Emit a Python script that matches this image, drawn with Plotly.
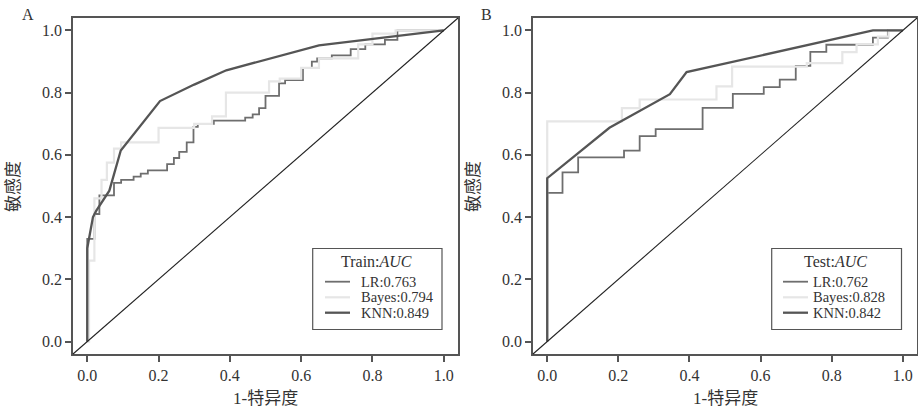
import plotly.graph_objects as go

# ---------------- data ----------------
# Panel A (training set) ROC curves
lr_a_x = [0, 0.02, 0.034, 0.075, 0.095, 0.13, 0.15, 0.17, 0.224, 0.243,
          0.258, 0.279, 0.298, 0.31, 0.355, 0.443, 0.464, 0.482, 0.50, 0.538,
          0.555, 0.605, 0.63, 0.645, 0.686, 0.739, 0.78, 0.835, 0.87, 1.0]
lr_a_y = [0, 0.33, 0.41, 0.47, 0.51, 0.52, 0.53, 0.54, 0.55, 0.57,
          0.59, 0.61, 0.64, 0.69, 0.70, 0.71, 0.72, 0.73, 0.75, 0.79,
          0.83, 0.84, 0.88, 0.90, 0.91, 0.92, 0.94, 0.955, 0.97, 1.0]
bayes_a_x = [0, 0.005, 0.02, 0.04, 0.055, 0.075, 0.095, 0.2, 0.3, 0.35,
             0.389, 0.51, 0.54, 0.6, 0.65, 0.76, 0.8, 0.865, 1.0]
bayes_a_y = [0, 0, 0.26, 0.46, 0.52, 0.575, 0.62, 0.64, 0.687, 0.70,
             0.724, 0.80, 0.836, 0.845, 0.88, 0.91, 0.955, 0.99, 1.0]
knn_a_x = [0, 0, 0.016, 0.025, 0.062, 0.094, 0.204, 0.30, 0.39, 0.51, 0.65, 1.0]
knn_a_y = [0, 0.30, 0.40, 0.42, 0.485, 0.614, 0.773, 0.826, 0.872, 0.909, 0.952, 1.0]

# Panel B (test set) ROC curves
lr_b_x = [0, 0.043, 0.087, 0.216, 0.26, 0.305, 0.437, 0.522, 0.609, 0.654,
          0.699, 0.74, 0.785, 0.916, 0.958, 1.0]
lr_b_y = [0, 0.478, 0.544, 0.592, 0.614, 0.66, 0.683, 0.751, 0.796, 0.818,
          0.842, 0.886, 0.931, 0.954, 0.977, 1.0]
bayes_b_x = [0, 0.21, 0.26, 0.476, 0.52, 0.73, 0.83, 0.87, 0.93, 0.96, 1.0]
bayes_b_y = [0, 0.708, 0.75, 0.778, 0.82, 0.884, 0.895, 0.93, 0.955, 0.98, 1.0]
knn_b_x = [0, 0, 0.175, 0.345, 0.392, 0.513, 0.916, 1.0]
knn_b_y = [0, 0.525, 0.687, 0.795, 0.866, 0.897, 1.0, 1.0]

models = ["LR", "Bayes", "KNN"]
auc_train = ["0.763", "0.794", "0.849"]
auc_test = ["0.762", "0.828", "0.842"]
legend_titles = ["Train:<i>AUC</i>", "Test:<i>AUC</i>"]

tick_vals = [0.0, 0.2, 0.4, 0.6, 0.8, 1.0]
tick_text = ["0.0", "0.2", "0.4", "0.6", "0.8", "1.0"]
x_title = "1-特异度"
y_title = "敏感度"
panel_labels = ["A", "B"]

# ---------------- style ----------------
W, H = 918, 410
SERIF = "Liberation Serif, Noto Sans CJK SC, serif"
TXT = "#333333"
COLORS = {"LR": "#6e6e6e", "Bayes": "#e6e6e6", "KNN": "#555555"}
WIDTHS = {"LR": 1.8, "Bayes": 2.2, "KNN": 2.3}
SHAPES = {"LR": "vh", "Bayes": "vh", "KNN": "linear"}
FRAME = "#555555"


def px(x):
    return x / W


def py(y):
    return 1 - y / H


fig = go.Figure()

panels = [
    ("", {"LR": (lr_a_x, lr_a_y), "Bayes": (bayes_a_x, bayes_a_y), "KNN": (knn_a_x, knn_a_y)}, auc_train),
    ("2", {"LR": (lr_b_x, lr_b_y), "Bayes": (bayes_b_x, bayes_b_y), "KNN": (knn_b_x, knn_b_y)}, auc_test),
]
for suffix, curves, aucs in panels:
    for m, auc in zip(models, aucs):
        cx, cy = curves[m]
        fig.add_trace(go.Scatter(x=cx, y=cy, mode="lines", line_shape=SHAPES[m],
                                 line=dict(color=COLORS[m], width=WIDTHS[m]),
                                 name=m + ":" + auc, xaxis="x" + suffix, yaxis="y" + suffix,
                                 showlegend=False, hoverinfo="x+y+name"))

rng = [-0.04, 1.04]
ydom = [py(354), py(18)]
xdomA = [px(73), px(458)]
xdomB = [px(533), px(917)]


def axis(domain, anchor):
    return dict(domain=domain, anchor=anchor, range=rng, showgrid=False, zeroline=False,
                showline=True, mirror=True, linecolor=FRAME, linewidth=1.5,
                ticks="outside", ticklen=6, tickwidth=1.5, tickcolor=FRAME,
                tickvals=tick_vals, ticktext=tick_text,
                tickfont=dict(family=SERIF, size=16, color=TXT), automargin=False)


fig.update_layout(
    width=W, height=H,
    margin=dict(l=0, r=0, t=0, b=0),
    paper_bgcolor="white", plot_bgcolor="white",
    xaxis=axis(xdomA, "y"), yaxis=axis(ydom, "x"),
    xaxis2=axis(xdomB, "y2"), yaxis2=axis(ydom, "x2"),
    showlegend=False,
)

shapes = []
annots = []

# diagonal reference lines (corner to corner of each panel)
for xr, yr in [("x domain", "y domain"), ("x2 domain", "y2 domain")]:
    shapes.append(dict(type="line", xref=xr, yref=yr, x0=0, y0=0, x1=1, y1=1,
                       line=dict(color="#222222", width=1.1), layer="above"))

# legend boxes (drawn as keys + text)
legend_boxes = [
    dict(x0=312.7, x1=442, title_x=376, key_x0=325, key_x1=350, text_x=358.5, aucs=auc_train),
    dict(x0=771.7, x1=901.5, title_x=835, key_x0=783, key_x1=808, text_x=810.5, aucs=auc_test),
]
row_y = [281.7, 297.3, 312.7]
for box, ttl in zip(legend_boxes, legend_titles):
    shapes.append(dict(type="rect", xref="paper", yref="paper",
                       x0=px(box["x0"]), x1=px(box["x1"]), y0=py(329.5), y1=py(248.5),
                       line=dict(color=FRAME, width=1.2), fillcolor="white", layer="above"))
    annots.append(dict(x=px(box["title_x"]), y=py(261.5), xref="paper", yref="paper",
                       text=ttl, showarrow=False, xanchor="center", yanchor="middle",
                       font=dict(family=SERIF, size=16, color=TXT)))
    for m, auc, ry in zip(models, box["aucs"], row_y):
        shapes.append(dict(type="line", xref="paper", yref="paper",
                           x0=px(box["key_x0"]), x1=px(box["key_x1"]), y0=py(ry), y1=py(ry),
                           line=dict(color=COLORS[m], width=WIDTHS[m]), layer="above"))
        annots.append(dict(x=px(box["text_x"]), y=py(ry), xref="paper", yref="paper",
                           text=m + ":" + auc, showarrow=False, xanchor="left", yanchor="middle",
                           font=dict(family=SERIF, size=14.5, color=TXT)))

# axis titles and panel labels
for cx, yx in [((73 + 458) / 2, 14), ((533 + 917) / 2, 474)]:
    annots.append(dict(x=px(cx), y=py(398), xref="paper", yref="paper", text=x_title,
                       showarrow=False, font=dict(family=SERIF, size=17, color=TXT),
                       xanchor="center", yanchor="middle"))
    annots.append(dict(x=px(yx), y=py(187), xref="paper", yref="paper", text=y_title,
                       showarrow=False, textangle=-90,
                       font=dict(family=SERIF, size=17, color=TXT),
                       xanchor="center", yanchor="middle"))
for lbl, lx in zip(panel_labels, [28, 487]):
    annots.append(dict(x=px(lx), y=py(14), xref="paper", yref="paper", text=lbl,
                       showarrow=False, font=dict(family=SERIF, size=16, color=TXT),
                       xanchor="center", yanchor="middle"))

fig.update_layout(shapes=shapes, annotations=annots)

fig.write_html("out.html", config={"displayModeBar": False},
               post_script="document.body.style.margin='0px';")
